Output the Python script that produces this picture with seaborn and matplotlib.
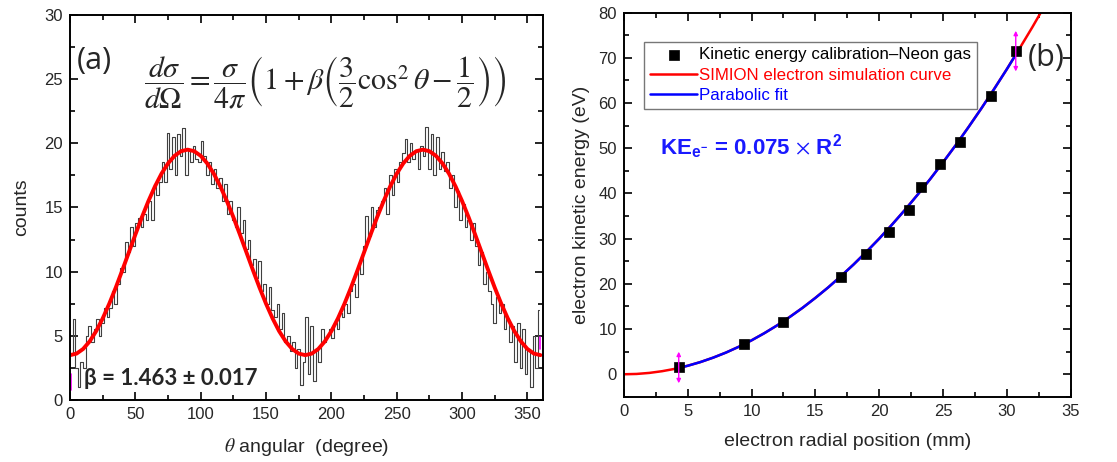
import numpy as np
import pandas as pd
import matplotlib
matplotlib.use('Agg')
import matplotlib.pyplot as plt
import seaborn as sns
from matplotlib.ticker import MultipleLocator

# (a) angular histogram, 2 degree bins
counts = [3.5, 6.3, 2.5, 1.0, 3.0, 2.5, 5.0, 5.8, 4.5, 5.5,
          6.3, 5.0, 6.0, 7.2, 6.5, 7.2, 8.5, 7.5, 9.0, 10.3,
          10.0, 12.3, 11.5, 13.5, 12.0, 13.8, 14.2, 13.5, 14.5, 14.0,
          15.5, 14.0, 16.8, 16.0, 17.0, 18.5, 17.0, 20.8, 18.0, 20.5,
          17.5, 20.7, 19.0, 21.2, 17.5, 19.5, 18.5, 19.8, 18.8, 18.5,
          20.2, 19.0, 17.5, 18.5, 16.8, 18.0, 16.5, 17.3, 15.5, 16.8,
          14.5, 15.5, 14.0, 13.5, 15.0, 13.0, 14.0, 11.8, 12.5, 10.5,
          11.0, 9.5, 10.8, 8.5, 9.0, 7.5, 8.8, 7.0, 6.5, 7.5,
          5.5, 6.8, 4.5, 5.0, 3.8, 4.5, 2.5, 4.0, 1.2, 3.0,
          6.5, 2.0, 5.8, 1.5, 4.0, 3.0, 5.5, 4.5, 5.0, 5.5,
          4.8, 6.0, 5.5, 6.8, 6.5, 7.5, 6.8, 8.5, 9.0, 8.0,
          10.5, 9.8, 12.0, 14.3, 12.8, 15.0, 13.5, 14.8, 15.0, 15.5,
          16.5, 14.5, 17.5, 16.0, 18.0, 17.0, 18.5, 19.2, 20.3, 18.5,
          20.0, 18.8, 19.5, 18.0, 19.8, 19.0, 21.3, 18.0, 20.7, 17.5,
          20.5, 18.0, 19.3, 17.8, 18.5, 16.5, 17.5, 15.0, 16.3, 14.0,
          15.3, 13.5, 14.0, 12.5, 13.8, 12.0, 10.5, 11.5, 9.0, 10.0,
          8.5, 7.5, 6.0, 8.0, 6.8, 7.5, 5.5, 6.3, 4.5, 5.8,
          3.0, 6.0, 2.5, 5.5, 2.0, 4.0, 1.0, 5.0, 2.5, 7.0]
bin_centers = list(range(1, 360, 2))

# (a) fitted angular distribution, read every 5 degrees
fit_theta = list(range(0, 361, 5))
fit_counts = [3.5, 3.62, 3.98, 4.57, 5.37, 6.36, 7.5, 8.76, 10.11, 11.5,
              12.89, 14.24, 15.5, 16.64, 17.63, 18.43, 19.02, 19.38, 19.5,
              19.38, 19.02, 18.43, 17.63, 16.64, 15.5, 14.24, 12.89, 11.5,
              10.11, 8.76, 7.5, 6.36, 5.37, 4.57, 3.98, 3.62, 3.5,
              3.62, 3.98, 4.57, 5.37, 6.36, 7.5, 8.76, 10.11, 11.5,
              12.89, 14.24, 15.5, 16.64, 17.63, 18.43, 19.02, 19.38, 19.5,
              19.38, 19.02, 18.43, 17.63, 16.64, 15.5, 14.24, 12.89, 11.5,
              10.11, 8.76, 7.5, 6.36, 5.37, 4.57, 3.98, 3.62, 3.5]

# (b) calibration points
radius = [4.3, 9.4, 12.5, 17.0, 19.0, 20.8, 22.3, 23.3, 24.8, 26.3, 28.8, 30.7]
energy = [1.5, 6.7, 11.6, 21.5, 26.5, 31.4, 36.4, 41.4, 46.6, 51.5, 61.5, 71.5]

# (b) SIMION curve and parabolic fit
sim_r = list(range(0, 34))
sim_e = [0.0, 0.07, 0.3, 0.68, 1.2, 1.88, 2.7, 3.68, 4.8, 6.08, 7.5, 9.08,
         10.8, 12.7, 14.7, 16.9, 19.2, 21.7, 24.3, 27.1, 30.0, 33.1, 36.3,
         39.7, 43.2, 46.9, 50.7, 54.7, 58.8, 63.1, 67.5, 72.1, 76.8, 81.7]
fit_r = [4.3, 5, 6, 7, 8, 9, 10, 11, 12, 13, 14, 15, 16, 17, 18, 19, 20,
         21, 22, 23, 24, 25, 26, 27, 28, 29, 30, 31]
fit_e = [1.39, 1.88, 2.7, 3.68, 4.8, 6.08, 7.5, 9.08, 10.8, 12.68, 14.7,
         16.88, 19.2, 21.68, 24.3, 27.08, 30.0, 33.08, 36.3, 39.68, 43.2,
         46.88, 50.7, 54.68, 58.8, 63.08, 67.5, 72.08]

# error-bar arrows (magenta)
arrow_a_x = [0.4, 359.6]
arrow_a_lo = [0.8, 4.0]
arrow_a_hi = [2.0, 4.9]
arrow_b_x = [4.3, 30.7]
arrow_b_lo = [-2.0, 67.0]
arrow_b_hi = [5.0, 76.0]

sns.set_style('white')
plt.rcParams['font.family'] = ['Liberation Sans', 'DejaVu Sans']
plt.rcParams['mathtext.fontset'] = 'stix'

fig = plt.figure(figsize=(11.17, 4.62), dpi=100)
ax1 = fig.add_axes([0.0627, 0.134, 0.4235, 0.834])
ax2 = fig.add_axes([0.5585, 0.141, 0.400, 0.8315])


def style_axes(ax):
    for s in ax.spines.values():
        s.set_color('black')
        s.set_linewidth(1.4)
    ax.tick_params(which='both', direction='in', top=True, right=True,
                   bottom=True, left=True, color='black', width=1.2,
                   labelsize=12, pad=5)
    ax.tick_params(which='major', length=6)
    ax.tick_params(which='minor', length=3.5)


# ---------- (a) ----------
hist_df = pd.DataFrame({'theta': bin_centers, 'counts': counts})
sns.lineplot(data=hist_df, x='theta', y='counts', ax=ax1, color='#404040',
             linewidth=0.8, drawstyle='steps-mid')
sns.lineplot(x=fit_theta, y=fit_counts, ax=ax1, color='#ff0000', linewidth=2.8)
for xx, lo, hi in zip(arrow_a_x, arrow_a_lo, arrow_a_hi):
    ax1.plot([xx, xx], [lo, hi], color='magenta', linewidth=1.2, clip_on=False)
ax1.set_xlim(0, 362)
ax1.set_ylim(0, 30)
ax1.xaxis.set_major_locator(MultipleLocator(50))
ax1.xaxis.set_minor_locator(MultipleLocator(25))
ax1.yaxis.set_major_locator(MultipleLocator(5))
ax1.yaxis.set_minor_locator(MultipleLocator(2.5))
style_axes(ax1)
ax1.set_xlabel(r'$\theta$ angular  (degree)', fontsize=14, labelpad=10)
ax1.set_ylabel('counts', fontsize=14, labelpad=10)
ax1.text(0.015, 0.86, '(a)', transform=ax1.transAxes, fontsize=22,
         family=['Open Sans', 'DejaVu Sans'])
ax1.text(0.54, 0.825,
         r'$\dfrac{d\sigma}{d\Omega} = \dfrac{\sigma}{4\pi}\left(1+\beta\left(\dfrac{3}{2}\cos^2\theta-\dfrac{1}{2}\right)\right)$',
         transform=ax1.transAxes, fontsize=21.5, ha='center', va='center')
ax1.text(0.03, 0.04, 'β = 1.463 ± 0.017', transform=ax1.transAxes,
         fontsize=16, fontweight='bold', family=['Lato', 'DejaVu Sans'])

# ---------- (b) ----------
sns.lineplot(x=sim_r, y=sim_e, ax=ax2, color='#ff0000', linewidth=1.8,
             label='SIMION electron simulation curve')
sns.lineplot(x=fit_r, y=fit_e, ax=ax2, color='#0000ff', linewidth=1.8,
             label='Parabolic fit')
sns.scatterplot(x=radius, y=energy, ax=ax2, color='black', marker='s', s=55,
                edgecolor='black', linewidth=0.5, zorder=5,
                label='Kinetic energy calibration\u2013Neon gas')
for xx, lo, hi in zip(arrow_b_x, arrow_b_lo, arrow_b_hi):
    ax2.annotate('', xy=(xx, hi), xytext=(xx, lo),
                 arrowprops=dict(arrowstyle='<|-|>', color='magenta', lw=1.0,
                                 mutation_scale=6, shrinkA=0, shrinkB=0),
                 zorder=6)
ax2.set_xlim(0, 35)
ax2.set_ylim(-5, 80)
ax2.xaxis.set_major_locator(MultipleLocator(5))
ax2.xaxis.set_minor_locator(MultipleLocator(2.5))
ax2.yaxis.set_major_locator(MultipleLocator(10))
ax2.yaxis.set_minor_locator(MultipleLocator(5))
style_axes(ax2)
ax2.set_xlabel('electron radial position (mm)', fontsize=14, labelpad=10)
ax2.set_ylabel('electron kinetic energy (eV)', fontsize=14, labelpad=6)

handles, labels = ax2.get_legend_handles_labels()
order = [2, 0, 1]
leg = ax2.legend([handles[i] for i in order], [labels[i] for i in order],
                 loc='upper left', bbox_to_anchor=(0.045, 0.925),
                 fontsize=12.2, frameon=True, fancybox=False,
                 handlelength=2.8, handletextpad=0.1, borderpad=0.35,
                 labelspacing=0.3, borderaxespad=0)
leg.get_frame().set_edgecolor('#555555')
leg.get_frame().set_linewidth(1.0)
for txt, col in zip(leg.get_texts(), ['black', '#ff0000', '#0000ff']):
    txt.set_color(col)

ax2.text(0.08, 0.63, r'KE$_{\mathregular{e}^{\mathregular{-}}}$ = 0.075 $\times$ R$^{\mathregular{2}}$',
         transform=ax2.transAxes, fontsize=16, fontweight='bold',
         color='#1a1aff')
ax2.text(0.905, 0.86, '(b)', transform=ax2.transAxes, fontsize=22,
         family=['Open Sans', 'DejaVu Sans'])

fig.savefig('out.png', dpi=100)
